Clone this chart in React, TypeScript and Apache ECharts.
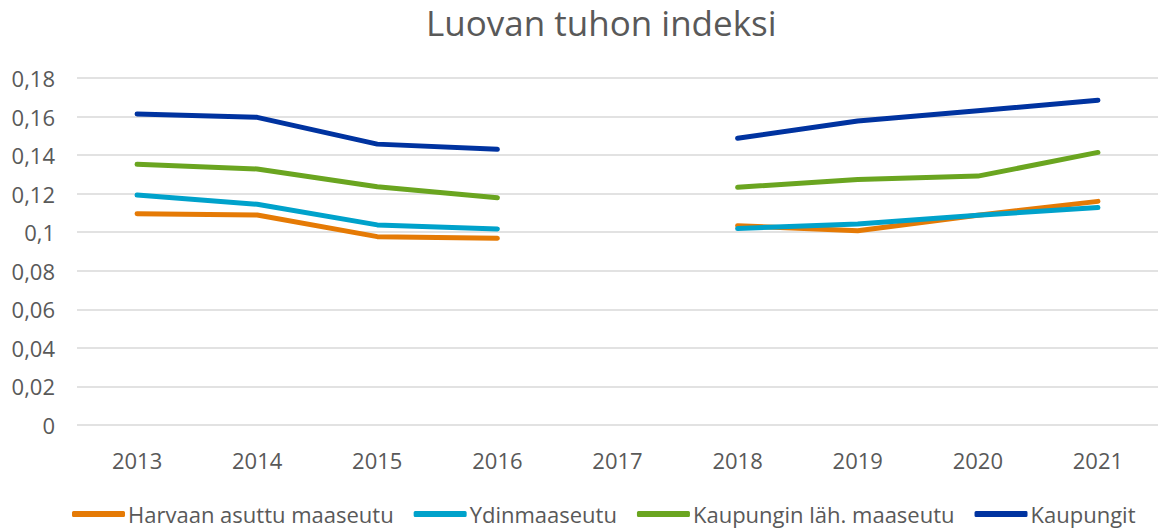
import React, { useEffect, useRef } from "react";
import * as echarts from "echarts";

const years = ["2013", "2014", "2015", "2016", "2017", "2018", "2019", "2020", "2021"];
const harvaan = [0.1096, 0.1089, 0.0977, 0.0969, null, 0.1034, 0.1008, 0.1088, 0.116];
const ydin = [0.1193, 0.1145, 0.1038, 0.1017, null, 0.1019, 0.1043, 0.1088, 0.1128];
const lahi = [0.1352, 0.1328, 0.1236, 0.1179, null, 0.1233, 0.1274, 0.1291, 0.1414];
const kaupungit = [0.1613, 0.1596, 0.1457, 0.143, null, 0.1487, 0.1577, 0.163, 0.1685];
const seriesNames = ["Harvaan asuttu maaseutu", "Ydinmaaseutu", "Kaupungin läh. maaseutu", "Kaupungit"];
const colors = ["#E57A05", "#00A2CB", "#6AA520", "#0033A0"];

const FONT = "'Open Sans', 'Noto Sans', sans-serif";

export default function App() {
  const ref = useRef<HTMLDivElement>(null);
  useEffect(() => {
    if (!ref.current) return;
    const chart = echarts.init(ref.current, undefined, { renderer: "svg" });
    const data = [harvaan, ydin, lahi, kaupungit];
    chart.setOption({
      animation: false,
      backgroundColor: "#ffffff",
      title: {
        text: "Luovan tuhon indeksi",
        left: 421,
        top: 0,
        textStyle: { fontFamily: FONT, fontSize: 35, fontWeight: "normal", color: "#595959" },
      },
      legend: {
        bottom: 0,
        left: 67,
        icon: "roundRect",
        itemWidth: 53,
        itemHeight: 6,
        itemGap: 20,
        textStyle: { fontFamily: FONT, fontSize: 22, color: "#595959", padding: [0, 0, 0, -2] },
        data: seriesNames,
      },
      grid: { left: 77, right: 4, top: 78, bottom: 105, containLabel: false },
      xAxis: {
        type: "category",
        data: years,
        boundaryGap: true,
        axisLine: { show: false },
        axisTick: { show: false },
        axisLabel: { fontFamily: FONT, fontSize: 22, color: "#595959", margin: 24 },
      },
      yAxis: {
        type: "value",
        min: 0,
        max: 0.18,
        interval: 0.02,
        axisLine: { show: false },
        axisTick: { show: false },
        splitLine: { lineStyle: { color: "#D9D9D9", width: 1.5 } },
        axisLabel: {
          fontFamily: FONT,
          fontSize: 22,
          color: "#595959",
          margin: 22,
          formatter: (v: number) => String(+v.toFixed(2)).replace(".", ","),
        },
      },
      series: data.map((d, i) => ({
        name: seriesNames[i],
        type: "line",
        data: d,
        connectNulls: false,
        showSymbol: false,
        symbol: "none",
        lineStyle: { color: colors[i], width: 5, cap: "round", join: "round" },
        itemStyle: { color: colors[i] },
      })),
    });
    return () => chart.dispose();
  }, []);
  return (
    <div
      ref={ref}
      style={{ position: "fixed", left: 0, top: 0, width: 1162, height: 530, background: "#fff" }}
    />
  );
}
